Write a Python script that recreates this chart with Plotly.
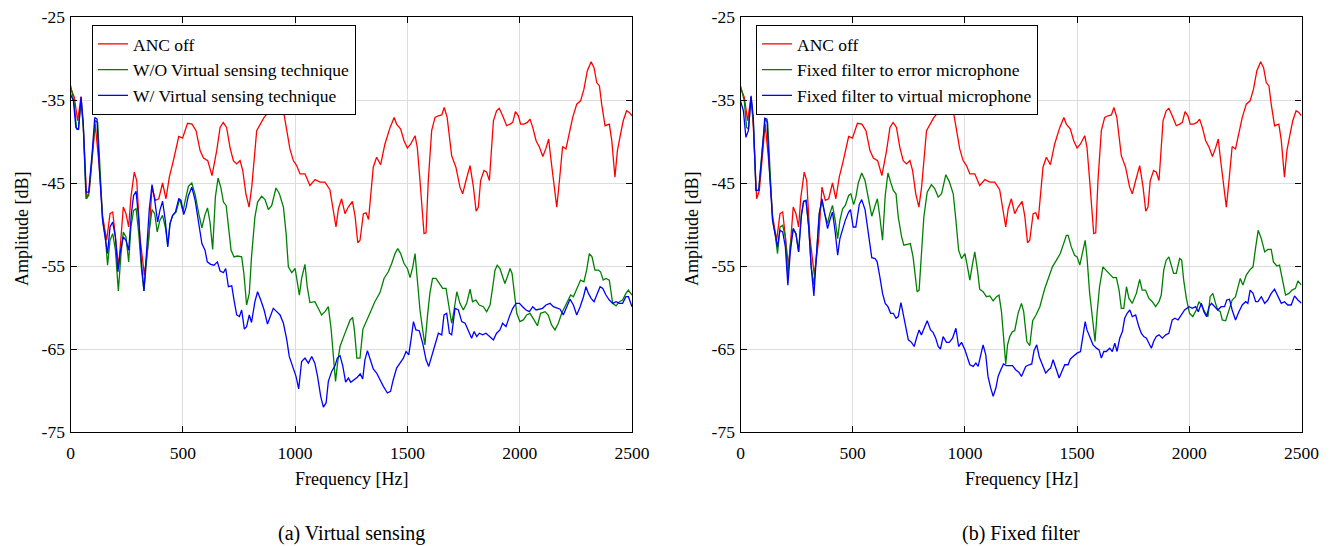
import plotly.graph_objects as go

# ---------------- data (frequency in Hz, amplitude in dB) ----------------
ANC_OFF = [(0,-33.5),(17,-34.7),(32,-37.5),(42,-35.9),(47,-34.6),(57,-38.2),(72,-46.9),(84,-45.9),(96,-41.8),
 (110,-37.9),(128,-43.0),(143,-49.0),(161,-51.9),(176,-48.7),(188,-48.5),(203,-51.9),(214,-55.1),(225,-51.5),
 (235,-47.9),(247,-48.7),(259,-50.3),(269,-46.7),(284,-43.7),(295,-44.7),(309,-51.5),(329,-56.1),(348,-51.9),
 (363,-45.5),(378,-47.1),(393,-46.9),(410,-45.0),(425,-46.9),(440,-44.3),(458,-42.3),(482,-39.4),(499,-39.6),
 (521,-37.8),(541,-37.9),(559,-38.7),(577,-41.1),(592,-42.0),(611,-42.3),(630,-44.1),(651,-41.1),(666,-38.3),
 (680,-37.7),(695,-38.3),(710,-40.7),(725,-42.3),(740,-42.7),(755,-42.3),(767,-43.5),(781,-46.3),(795,-47.9),
 (807,-45.5),(829,-38.7),(844,-37.9),(862,-37.1),(881,-36.5),(903,-35.5),(918,-35.7),(933,-35.5),(948,-36.3),
 (963,-38.7),(977,-40.9),(992,-42.3),(1007,-42.9),(1022,-43.9),(1044,-43.9),(1066,-45.3),(1089,-44.6),(1111,-44.9),
 (1133,-44.9),(1155,-45.8),(1167,-47.7),(1182,-50.3),(1193,-48.1),(1207,-46.9),(1222,-48.7),(1237,-47.9),(1255,-47.2),
 (1267,-49.0),(1279,-52.2),(1289,-51.9),(1304,-48.7),(1316,-48.6),(1327,-49.4),(1337,-45.9),(1348,-43.1),(1363,-41.9),
 (1381,-42.8),(1400,-40.3),(1423,-38.3),(1441,-37.1),(1452,-37.9),(1470,-38.5),(1485,-39.9),(1500,-40.8),(1515,-40.3),
 (1534,-39.3),(1544,-40.7),(1556,-44.7),(1568,-48.7),(1574,-51.1),(1583,-51.0),(1593,-44.7),(1608,-38.7),(1623,-37.1),
 (1638,-36.9),(1653,-36.8),(1664,-35.9),(1677,-37.1),(1697,-41.7),(1716,-43.1),(1734,-45.5),(1746,-46.3),(1761,-44.7),
 (1779,-42.9),(1794,-45.5),(1806,-48.4),(1816,-47.9),(1826,-44.7),(1841,-43.5),(1853,-43.7),(1865,-44.7),(1883,-37.5),
 (1897,-36.3),(1909,-36.0),(1924,-36.9),(1942,-38.1),(1957,-37.9),(1969,-37.7),(1981,-36.4),(1994,-36.9),(2004,-37.9),
 (2019,-37.9),(2034,-37.7),(2046,-37.3),(2058,-38.3),(2073,-39.9),(2088,-40.7),(2103,-41.8),(2117,-40.8),(2129,-39.7),
 (2138,-41.9),(2153,-45.5),(2165,-47.9),(2177,-44.7),(2191,-40.6),(2206,-40.9),(2221,-39.1),(2236,-37.1),(2254,-35.5),
 (2271,-35.1),(2286,-33.7),(2301,-31.5),(2318,-30.4),(2331,-31.1),(2343,-32.9),(2355,-33.3),(2365,-35.5),(2380,-38.1),
 (2399,-37.9),(2410,-39.9),(2424,-44.3),(2435,-41.1),(2449,-39.1),(2461,-37.5),(2476,-36.3),(2488,-36.5),(2500,-36.9)]

WO_VIRTUAL = [(0,-33.2),(17,-35.5),(27,-38.5),(36,-38.5),(47,-35.1),(57,-38.3),(69,-46.9),(81,-46.5),(96,-41.9),
 (110,-37.5),(121,-37.7),(131,-43.9),(143,-49.5),(155,-51.5),(165,-54.9),(176,-51.9),(188,-51.1),(200,-53.1),
 (213,-58.0),(225,-53.5),(235,-50.9),(247,-51.5),(259,-54.5),(269,-50.3),(281,-48.3),(292,-48.1),(304,-51.1),
 (315,-55.1),(327,-58.0),(339,-54.3),(351,-50.7),(363,-48.2),(375,-48.7),(386,-50.9),(398,-49.5),(410,-48.9),
 (422,-50.3),(433,-52.5),(443,-49.9),(455,-48.9),(470,-48.5),(486,-46.9),(501,-48.4),(511,-47.1),(525,-45.4),
 (540,-45.0),(555,-46.4),(571,-48.7),(585,-50.4),(598,-48.9),(610,-48.0),(621,-49.7),(633,-53.0),(645,-46.7),
 (657,-44.4),(669,-45.5),(681,-47.3),(693,-47.7),(703,-50.3),(715,-53.1),(728,-53.9),(743,-53.8),(762,-53.9),
 (772,-55.9),(784,-59.7),(796,-58.3),(806,-53.9),(821,-49.1),(833,-47.3),(851,-46.6),(866,-47.0),(881,-48.2),
 (896,-47.7),(915,-45.6),(930,-46.3),(948,-47.9),(960,-51.1),(970,-55.1),(985,-55.8),(1000,-55.3),(1019,-58.5),
 (1029,-56.5),(1044,-54.8),(1054,-57.5),(1066,-59.4),(1088,-59.3),(1103,-60.1),(1118,-60.9),(1133,-60.5),(1148,-59.9),
 (1160,-62.5),(1170,-65.5),(1180,-68.9),(1190,-66.5),(1200,-64.7),(1215,-63.6),(1230,-62.5),(1245,-61.5),(1256,-61.2),
 (1264,-62.7),(1275,-66.1),(1289,-66.1),(1302,-62.6),(1318,-61.5),(1333,-60.7),(1355,-59.3),(1378,-58.2),(1396,-56.5),
 (1415,-55.7),(1430,-54.7),(1445,-53.5),(1457,-52.9),(1470,-53.5),(1485,-54.7),(1500,-55.3),(1512,-56.4),(1524,-55.1),
 (1534,-53.5),(1544,-56.7),(1556,-60.3),(1568,-62.7),(1578,-64.5),(1589,-61.1),(1600,-58.3),(1612,-56.5),(1627,-56.5),
 (1642,-57.1),(1657,-57.7),(1672,-57.7),(1682,-59.5),(1697,-61.9),(1708,-60.3),(1720,-58.1),(1734,-59.5),(1749,-60.3),
 (1764,-59.5),(1779,-57.8),(1790,-59.3),(1805,-59.1),(1820,-59.7),(1838,-59.9),(1853,-60.5),(1868,-59.7),(1880,-57.5),
 (1890,-55.5),(1900,-54.9),(1912,-55.3),(1924,-56.3),(1934,-57.1),(1945,-56.3),(1957,-55.3),(1966,-55.9),(1975,-58.3),
 (1987,-60.7),(2001,-61.7),(2016,-61.5),(2031,-60.9),(2046,-60.7),(2064,-61.5),(2079,-62.2),(2093,-60.7),(2113,-60.5),
 (2127,-60.9),(2142,-62.1),(2157,-62.7),(2172,-61.9),(2187,-60.7),(2202,-59.9),(2217,-59.1),(2227,-58.5),(2239,-58.7),
 (2257,-57.5),(2271,-56.7),(2286,-56.9),(2298,-55.5),(2310,-53.5),(2322,-53.9),(2335,-55.5),(2350,-55.5),(2360,-55.7),
 (2372,-56.7),(2384,-56.5),(2399,-56.7),(2414,-59.5),(2429,-59.8),(2444,-59.3),(2458,-59.1),(2473,-58.3),(2484,-57.9),
 (2500,-58.5)]

W_VIRTUAL = [(0,-34.3),(13,-35.1),(24,-38.3),(35,-38.6),(47,-34.6),(57,-37.9),(69,-46.1),(81,-46.1),(96,-41.5),
 (108,-37.1),(118,-37.3),(128,-43.1),(143,-49.5),(155,-51.5),(165,-53.5),(176,-50.3),(188,-49.7),(200,-51.5),
 (211,-55.7),(222,-53.3),(235,-51.5),(247,-51.9),(259,-53.1),(271,-48.7),(281,-46.5),(292,-46.0),(304,-49.5),
 (315,-54.3),(327,-58.0),(339,-53.1),(351,-48.1),(363,-45.2),(375,-47.1),(388,-49.7),(398,-48.3),(410,-47.2),
 (422,-49.5),(433,-52.7),(443,-49.9),(455,-48.9),(467,-48.5),(482,-46.9),(492,-47.1),(504,-48.8),(514,-48.0),
 (524,-46.6),(540,-45.5),(555,-47.1),(570,-49.7),(585,-52.3),(599,-53.1),(609,-54.5),(624,-54.8),(639,-54.9),
 (654,-54.5),(666,-55.6),(681,-55.8),(691,-55.3),(703,-57.5),(718,-57.4),(728,-59.1),(740,-60.9),(752,-61.1),
 (762,-60.3),(774,-62.6),(784,-62.3),(796,-60.9),(806,-61.8),(821,-59.3),(833,-58.1),(847,-59.1),(862,-60.3),
 (877,-62.0),(891,-61.1),(903,-60.1),(918,-60.5),(933,-60.9),(948,-61.9),(963,-63.9),(974,-65.9),(989,-67.1),
 (1004,-68.3),(1016,-69.8),(1029,-66.5),(1044,-66.1),(1059,-66.7),(1074,-65.9),(1088,-66.7),(1100,-68.3),(1114,-70.7),
 (1126,-72.0),(1138,-71.5),(1148,-68.9),(1163,-67.7),(1178,-67.0),(1188,-66.1),(1200,-65.8),(1212,-67.0),(1225,-69.0),
 (1237,-68.5),(1248,-69.0),(1262,-68.7),(1277,-68.4),(1290,-68.0),(1301,-68.6),(1311,-66.3),(1322,-65.2),(1335,-66.3),
 (1348,-67.4),(1363,-67.9),(1378,-68.8),(1393,-69.5),(1411,-70.3),(1425,-70.1),(1437,-68.7),(1452,-67.3),(1467,-66.7),
 (1482,-66.1),(1494,-65.3),(1506,-65.7),(1516,-63.9),(1527,-61.7),(1538,-62.7),(1553,-62.8),(1568,-64.3),(1583,-66.3),
 (1595,-67.1),(1608,-65.9),(1623,-64.7),(1638,-63.1),(1653,-63.3),(1663,-60.9),(1675,-60.7),(1687,-63.1),(1697,-63.3),
 (1712,-60.1),(1727,-60.3),(1742,-61.7),(1757,-61.9),(1771,-62.7),(1786,-63.7),(1797,-62.9),(1809,-63.5),(1820,-63.1),
 (1835,-63.3),(1850,-63.1),(1865,-63.5),(1883,-63.9),(1897,-63.1),(1912,-62.7),(1924,-61.9),(1939,-62.3),(1954,-61.1),
 (1969,-60.1),(1984,-59.5),(1999,-59.5),(2013,-59.9),(2028,-60.3),(2043,-60.5),(2058,-59.9),(2073,-60.3),(2087,-60.2),
 (2102,-60.1),(2117,-59.7),(2135,-59.5),(2150,-59.9),(2165,-60.1),(2180,-60.2),(2194,-60.9),(2209,-59.9),(2224,-59.0),
 (2239,-59.7),(2254,-60.9),(2269,-59.9),(2284,-58.7),(2295,-57.5),(2306,-58.3),(2318,-58.9),(2331,-59.3),(2343,-58.5),
 (2358,-57.5),(2370,-57.7),(2384,-58.5),(2399,-59.1),(2414,-59.5),(2429,-59.3),(2444,-59.5),(2458,-59.5),(2473,-58.7),
 (2484,-58.7),(2500,-59.9)]

FIXED_ERROR = [(0,-33.3),(17,-35.1),(27,-38.3),(36,-38.5),(47,-34.7),(57,-37.5),(69,-45.9),(81,-45.9),(96,-41.1),
 (110,-37.3),(121,-37.7),(131,-43.9),(143,-49.5),(155,-51.3),(165,-53.5),(176,-50.3),(188,-50.1),(200,-51.5),
 (211,-56.3),(222,-52.5),(235,-50.5),(247,-51.1),(259,-53.3),(271,-48.7),(281,-47.3),(292,-47.1),(304,-50.3),
 (315,-55.1),(327,-57.3),(339,-53.5),(351,-48.7),(363,-47.1),(375,-48.7),(388,-49.9),(398,-48.7),(410,-47.7),
 (422,-49.5),(433,-51.7),(443,-49.5),(455,-48.1),(467,-47.7),(482,-46.5),(492,-46.3),(504,-47.6),(514,-46.7),
 (525,-45.0),(540,-43.8),(555,-44.7),(570,-47.1),(585,-49.0),(599,-47.8),(610,-46.9),(621,-49.1),(633,-51.9),
 (645,-46.5),(657,-43.8),(669,-44.9),(681,-45.9),(693,-46.3),(703,-49.1),(718,-51.5),(728,-52.5),(743,-52.4),
 (757,-52.3),(769,-53.9),(781,-57.1),(787,-58.1),(796,-57.9),(806,-53.9),(817,-49.1),(832,-46.1),(851,-45.2),
 (866,-45.7),(881,-46.7),(896,-46.3),(915,-44.0),(930,-44.8),(948,-46.3),(960,-49.5),(972,-53.1),(985,-54.1),
 (1000,-53.5),(1010,-54.9),(1022,-56.7),(1033,-54.9),(1044,-53.3),(1056,-55.5),(1066,-57.8),(1081,-58.1),(1096,-58.7),
 (1111,-58.6),(1126,-59.2),(1141,-58.7),(1152,-58.5),(1163,-60.5),(1173,-63.5),(1182,-66.8),(1190,-64.5),(1200,-63.5),
 (1212,-62.9),(1222,-62.8),(1237,-60.7),(1252,-59.5),(1262,-60.5),(1276,-64.1),(1289,-64.6),(1302,-61.6),(1317,-60.9),
 (1334,-59.9),(1356,-57.7),(1371,-56.5),(1390,-55.1),(1408,-54.3),(1425,-53.5),(1440,-52.3),(1452,-51.3),(1460,-51.3),
 (1474,-52.7),(1489,-53.7),(1500,-53.9),(1512,-54.9),(1524,-53.5),(1536,-51.9),(1544,-53.9),(1556,-58.3),(1571,-61.9),
 (1580,-64.1),(1589,-60.7),(1600,-57.5),(1615,-55.1),(1630,-55.5),(1645,-55.9),(1660,-56.4),(1675,-56.4),(1687,-57.9),
 (1697,-60.1),(1708,-60.1),(1720,-57.5),(1731,-58.9),(1746,-59.5),(1764,-58.3),(1779,-56.6),(1790,-57.9),(1805,-57.9),
 (1820,-58.9),(1835,-59.3),(1850,-59.9),(1865,-59.3),(1875,-58.5),(1886,-55.5),(1897,-54.3),(1909,-53.9),(1920,-54.9),
 (1930,-55.9),(1942,-55.9),(1957,-54.1),(1966,-54.3),(1975,-56.7),(1987,-58.9),(2001,-60.7),(2016,-61.1),(2031,-60.3),
 (2043,-59.3),(2054,-59.7),(2068,-60.5),(2083,-61.1),(2093,-58.7),(2105,-58.3),(2117,-59.5),(2127,-60.3),(2138,-60.5),
 (2147,-61.5),(2162,-61.6),(2177,-60.3),(2191,-59.1),(2206,-58.7),(2217,-57.5),(2227,-56.5),(2239,-57.3),(2254,-56.1),
 (2269,-55.5),(2284,-55.1),(2296,-52.7),(2307,-50.7),(2321,-51.7),(2336,-53.3),(2350,-53.0),(2365,-53.0),(2375,-54.5),
 (2390,-55.0),(2402,-54.9),(2414,-56.7),(2429,-58.5),(2444,-58.3),(2458,-57.9),(2473,-57.7),(2484,-56.8),(2500,-57.3)]

FIXED_VIRTUAL = [(0,-35.1),(13,-36.3),(24,-39.5),(35,-38.7),(47,-34.5),(57,-37.1),(69,-45.9),(81,-45.9),(96,-41.5),
 (108,-37.2),(118,-37.3),(128,-43.1),(143,-49.5),(155,-51.5),(165,-52.7),(176,-50.7),(188,-50.9),(200,-52.7),
 (211,-57.3),(222,-53.3),(235,-50.5),(247,-51.1),(259,-53.3),(271,-49.1),(281,-47.2),(292,-47.1),(304,-50.3),
 (315,-55.1),(327,-58.6),(339,-53.5),(351,-48.7),(363,-46.9),(375,-48.7),(388,-50.5),(398,-49.5),(410,-48.5),
 (422,-50.9),(433,-53.7),(443,-51.7),(455,-50.5),(467,-49.5),(482,-48.5),(490,-48.2),(502,-50.3),(514,-50.3),
 (529,-47.6),(540,-47.0),(555,-48.2),(570,-51.3),(585,-54.0),(600,-54.1),(609,-54.5),(621,-56.3),(633,-58.3),
 (645,-59.5),(657,-59.9),(669,-60.7),(681,-60.7),(693,-61.3),(703,-61.1),(715,-59.4),(725,-60.7),(737,-62.7),
 (748,-63.9),(762,-64.2),(774,-64.7),(784,-63.7),(796,-62.7),(806,-63.3),(817,-62.5),(832,-61.6),(847,-62.7),
 (858,-63.0),(870,-63.7),(881,-64.7),(891,-65.0),(903,-63.5),(918,-64.2),(930,-64.2),(945,-63.7),(960,-62.5),
 (972,-64.7),(985,-64.2),(1000,-65.1),(1010,-65.9),(1022,-66.9),(1037,-67.1),(1049,-66.7),(1059,-67.1),(1069,-65.9),
 (1081,-64.5),(1093,-65.7),(1103,-68.3),(1114,-69.6),(1126,-70.7),(1138,-69.7),(1148,-68.3),(1160,-67.5),(1172,-66.8),
 (1185,-67.0),(1198,-67.0),(1212,-67.0),(1226,-67.5),(1240,-67.8),(1252,-68.3),(1262,-67.6),(1271,-67.1),(1286,-66.9),
 (1298,-66.8),(1308,-65.2),(1320,-64.5),(1332,-66.0),(1345,-66.9),(1360,-67.9),(1373,-67.5),(1382,-67.3),(1393,-66.3),
 (1405,-67.3),(1420,-68.5),(1432,-67.7),(1445,-66.9),(1460,-66.9),(1470,-66.2),(1482,-65.9),(1500,-65.5),(1515,-65.3),
 (1527,-63.5),(1536,-61.7),(1544,-62.7),(1556,-63.5),(1571,-64.5),(1586,-64.9),(1598,-65.1),(1608,-66.1),(1619,-65.3),
 (1630,-65.3),(1645,-64.9),(1657,-65.3),(1668,-64.3),(1678,-65.3),(1690,-63.7),(1702,-62.9),(1712,-61.3),(1723,-60.7),
 (1735,-60.3),(1746,-61.1),(1761,-60.9),(1775,-62.3),(1786,-63.1),(1797,-63.5),(1809,-63.7),(1820,-64.3),(1831,-64.9),
 (1841,-64.1),(1853,-63.5),(1865,-63.3),(1880,-63.7),(1895,-63.3),(1909,-63.1),(1924,-61.5),(1936,-61.3),(1950,-61.5),
 (1964,-60.9),(1979,-60.3),(1999,-59.9),(2013,-60.1),(2028,-59.9),(2040,-60.5),(2054,-59.5),(2065,-60.5),(2077,-61.1),
 (2088,-59.9),(2099,-59.5),(2113,-59.9),(2127,-60.3),(2142,-59.9),(2157,-59.9),(2167,-59.1),(2179,-59.0),(2191,-60.3),
 (2206,-61.5),(2221,-60.5),(2236,-59.7),(2251,-59.3),(2261,-59.5),(2271,-57.9),(2284,-58.3),(2296,-59.3),(2306,-59.3),
 (2321,-58.7),(2336,-59.5),(2350,-59.1),(2365,-58.3),(2380,-57.8),(2395,-58.7),(2410,-59.5),(2424,-59.3),(2439,-59.7),
 (2454,-59.7),(2469,-58.6),(2484,-59.1),(2500,-59.5)]

X_TICKS = [0, 500, 1000, 1500, 2000, 2500]
Y_TICKS = [-75, -65, -55, -45, -35, -25]

SERIES_A = [("ANC off", ANC_OFF, "#ff0000"),
            ("W/O Virtual sensing technique", WO_VIRTUAL, "#008000"),
            ("W/ Virtual sensing technique", W_VIRTUAL, "#0000ff")]
SERIES_B = [("ANC off", ANC_OFF, "#ff0000"),
            ("Fixed filter to error microphone", FIXED_ERROR, "#008000"),
            ("Fixed filter to virtual microphone", FIXED_VIRTUAL, "#0000ff")]

# ---------------- figure ----------------
# The page body has an 8 px margin, so the figure is 8 px smaller and page
# coordinates are converted to figure coordinates by subtracting 8.
OFF = 8
W, H = 1337 - OFF, 546 - OFF
FONT = "Liberation Serif"

def fx(p):  # page x (px) -> paper fraction
    return (p - OFF) / W

def fy(p):  # page y (px, from top) -> paper fraction
    return 1 - (p - OFF) / H

fig = go.Figure()
for name, pts, col in SERIES_A:
    fig.add_trace(go.Scatter(x=[p[0] for p in pts], y=[p[1] for p in pts], mode="lines", name=name,
                             line=dict(color=col, width=1.3), xaxis="x", yaxis="y", legend="legend"))
for name, pts, col in SERIES_B:
    fig.add_trace(go.Scatter(x=[p[0] for p in pts], y=[p[1] for p in pts], mode="lines", name=name,
                             line=dict(color=col, width=1.3), xaxis="x2", yaxis="y2", legend="legend2"))

def xax(domain, anchor):
    return dict(domain=domain, anchor=anchor, range=[0, 2500], tickvals=X_TICKS,
                ticktext=[str(v) for v in X_TICKS], ticks="inside", ticklen=6, tickcolor="black",
                showline=True, linecolor="black", linewidth=1.2, mirror="ticks",
                showgrid=True, gridcolor="#dddddd", gridwidth=1.2, zeroline=False, automargin=False,
                ticklabeloverflow="allow",
                tickfont=dict(family=FONT, size=17.5, color="black"), ticklabelstandoff=5)

def yax(domain, anchor):
    return dict(domain=domain, anchor=anchor, range=[-75, -25], tickvals=Y_TICKS,
                ticktext=[str(v) for v in Y_TICKS], ticks="inside", ticklen=6, tickcolor="black",
                showline=True, linecolor="black", linewidth=1.2, mirror="ticks",
                showgrid=True, gridcolor="#dddddd", gridwidth=1.2, zeroline=False, automargin=False,
                ticklabeloverflow="allow",
                tickfont=dict(family=FONT, size=17.5, color="black"), ticklabelstandoff=1)

ydom = [fy(432), fy(17)]
legend_style = dict(xanchor="left", yanchor="top", bgcolor="white", bordercolor="black", borderwidth=1,
                    font=dict(family=FONT, size=17.5, color="black"), itemwidth=30, tracegroupgap=0)

fig.update_layout(
    template="none",
    width=W, height=H, margin=dict(l=0, r=0, t=0, b=0, pad=0, autoexpand=False),
    paper_bgcolor="white", plot_bgcolor="white",
    font=dict(family=FONT, color="black"),
    xaxis=xax([fx(70.5), fx(632)], "y"), yaxis=yax(ydom, "x"),
    xaxis2=xax([fx(740.5), fx(1301.5)], "y2"), yaxis2=yax(ydom, "x2"),
    legend=dict(x=fx(92), y=fy(25), **legend_style),
    legend2=dict(x=fx(756), y=fy(25), **legend_style),
    showlegend=True,
)

ann = []
for cx, cap in [(351, "(a) Virtual sensing"), (1021, "(b) Fixed filter")]:
    ann.append(dict(x=fx(cx), y=fy(479), xref="paper", yref="paper", text="Frequency [Hz]",
                    xanchor="center", yanchor="middle",
                    showarrow=False, font=dict(family=FONT, size=18, color="black")))
    ann.append(dict(x=fx(cx), y=fy(533), xref="paper", yref="paper", text=cap,
                    xanchor="center", yanchor="middle",
                    showarrow=False, font=dict(family=FONT, size=20, color="black")))
for cx in [22, 692]:
    ann.append(dict(x=fx(cx), y=fy(229), xref="paper", yref="paper", text="Amplitude [dB]",
                    xanchor="center", yanchor="middle",
                    textangle=-90, showarrow=False, font=dict(family=FONT, size=18, color="black")))
fig.update_layout(annotations=ann)

fig.write_html("out.html")
